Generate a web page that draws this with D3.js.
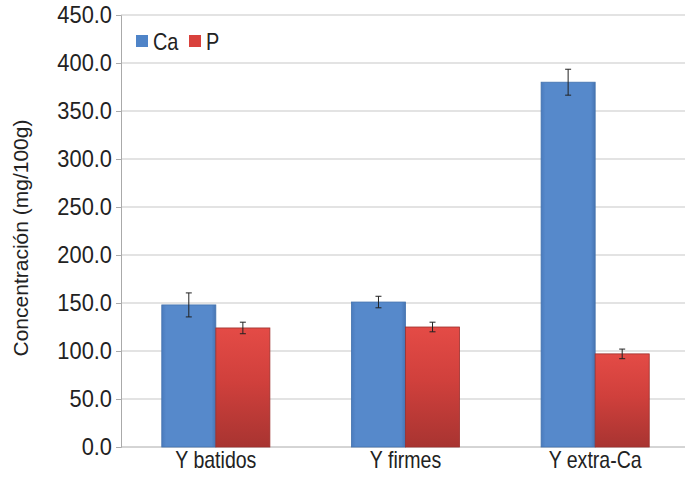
<!DOCTYPE html>
<html>
<head>
<meta charset="utf-8">
<script src="https://cdn.jsdelivr.net/npm/d3@7"></script>
<style>
  body { margin: 0; background: #fff; }
  text { font-family: "Liberation Sans", Arial, sans-serif; fill: #222; }
</style>
</head>
<body>
<svg></svg>
<script>
const categories = ['Y batidos', 'Y firmes', 'Y extra-Ca'];
const seriesNames = ['Ca', 'P'];
const caValues = [148, 151, 380];
const caErrors = [12.5, 6, 13.5];
const pValues = [124, 125, 97];
const pErrors = [6, 5, 5];
const yTicks = [0, 50, 100, 150, 200, 250, 300, 350, 400, 450];

const width = 685, height = 477;
const margin = {top: 15, right: -5, bottom: 30, left: 121};

const svg = d3.select('svg')
  .attr('width', width)
  .attr('height', height);

const defs = svg.append('defs');
const blueGrad = defs.append('linearGradient').attr('id', 'gBlue')
  .attr('x1', 0).attr('x2', 1).attr('y1', 0).attr('y2', 0);
blueGrad.append('stop').attr('offset', '0%').attr('stop-color', '#4a7bbd');
blueGrad.append('stop').attr('offset', '8%').attr('stop-color', '#5689cb');
blueGrad.append('stop').attr('offset', '92%').attr('stop-color', '#5689cb');
blueGrad.append('stop').attr('offset', '100%').attr('stop-color', '#4775b3');

const redGrad = defs.append('linearGradient').attr('id', 'gRed')
  .attr('x1', 0).attr('x2', 0).attr('y1', 0).attr('y2', 1);
redGrad.append('stop').attr('offset', '0%').attr('stop-color', '#e44b46');
redGrad.append('stop').attr('offset', '45%').attr('stop-color', '#d0403c');
redGrad.append('stop').attr('offset', '100%').attr('stop-color', '#a83431');

const fills = {Ca: 'url(#gBlue)', P: 'url(#gRed)'};
const legendColors = {Ca: '#4f84c8', P: '#d9413c'};

const yScale = d3.scaleLinear()
  .domain([0, 450])
  .range([447, margin.top]);

const xScale = d3.scaleBand()
  .domain(categories)
  .range([margin.left, width - margin.right])
  .paddingInner(0.43)
  .paddingOuter(0.215);

const xSub = d3.scaleBand()
  .domain(seriesNames)
  .range([0, xScale.bandwidth()]);

// gridlines
svg.append('g')
  .selectAll('line')
  .data(yTicks.filter(d => d > 0))
  .join('line')
    .attr('x1', margin.left)
    .attr('x2', width)
    .attr('y1', d => yScale(d))
    .attr('y2', d => yScale(d))
    .attr('stroke', '#c8c8c8')
    .attr('stroke-width', 1.2);

// y axis
const ySx = 0.95;
const yAxis = svg.append('g')
  .attr('transform', `translate(${margin.left},0)`)
  .call(d3.axisLeft(yScale)
    .tickValues(yTicks)
    .tickSize(5)
    .tickPadding(5)
    .tickFormat(d3.format('.1f')));
yAxis.select('.domain').attr('stroke', '#aaa');
yAxis.selectAll('.tick line').attr('stroke', '#aaa');
yAxis.selectAll('.tick text')
  .attr('font-size', 23)
  .attr('x', -9 / ySx)
  .attr('transform', `scale(${ySx},1)`)
  .attr('fill', '#222');

// x axis
const xAxis = svg.append('g')
  .attr('transform', `translate(0,${yScale(0)})`)
  .call(d3.axisBottom(xScale).tickSize(0).tickPadding(5));
xAxis.select('.domain').attr('stroke', '#aaa').attr('d', `M${margin.left},0H${width}`);
xAxis.selectAll('.tick text')
  .attr('font-size', 23)
  .attr('transform', 'scale(0.85,1)')
  .attr('fill', '#222');

// bars
const rows = categories.map((c, i) => ({
  cat: c,
  items: [
    {key: 'Ca', value: caValues[i], err: caErrors[i]},
    {key: 'P', value: pValues[i], err: pErrors[i]}
  ]
}));

const groups = svg.append('g')
  .selectAll('g')
  .data(rows)
  .join('g')
    .attr('transform', d => `translate(${xScale(d.cat)},0)`);

groups.selectAll('rect')
  .data(d => d.items)
  .join('rect')
    .attr('x', d => xSub(d.key))
    .attr('y', d => yScale(d.value))
    .attr('width', xSub.bandwidth())
    .attr('height', d => yScale(0) - yScale(d.value))
    .attr('fill', d => fills[d.key])
    .attr('stroke', d => d.key === 'Ca' ? '#4372ad' : '#9c2f2c')
    .attr('stroke-width', 0.8);

// error bars
const errG = groups.selectAll('g.err')
  .data(d => d.items)
  .join('g')
    .attr('class', 'err')
    .attr('transform', d => `translate(${xSub(d.key) + xSub.bandwidth() / 2},0)`);

errG.append('line')
  .attr('y1', d => yScale(d.value + d.err))
  .attr('y2', d => yScale(d.value - d.err))
  .attr('stroke', '#222')
  .attr('stroke-width', 1);
errG.append('line')
  .attr('x1', -3).attr('x2', 3)
  .attr('y1', d => yScale(d.value + d.err))
  .attr('y2', d => yScale(d.value + d.err))
  .attr('stroke', '#222');
errG.append('line')
  .attr('x1', -3).attr('x2', 3)
  .attr('y1', d => yScale(d.value - d.err))
  .attr('y2', d => yScale(d.value - d.err))
  .attr('stroke', '#222');

// y title
svg.append('text')
  .attr('transform', `translate(28,238) rotate(-90)`)
  .attr('text-anchor', 'middle')
  .attr('font-size', 21)
  .text('Concentración (mg/100g)');

// legend
const legend = svg.append('g')
  .attr('transform', 'translate(136,35)');
const legendX = {Ca: 0, P: 53};
seriesNames.forEach(s => {
  const lg = legend.append('g').attr('transform', `translate(${legendX[s]},0)`);
  lg.append('rect')
    .attr('width', 12).attr('height', 12)
    .attr('fill', legendColors[s]);
  lg.append('text')
    .attr('x', 17 / 0.83).attr('y', 15)
    .attr('transform', 'scale(0.83,1)')
    .attr('font-size', 24)
    .text(s);
});
</script>
</body>
</html>
